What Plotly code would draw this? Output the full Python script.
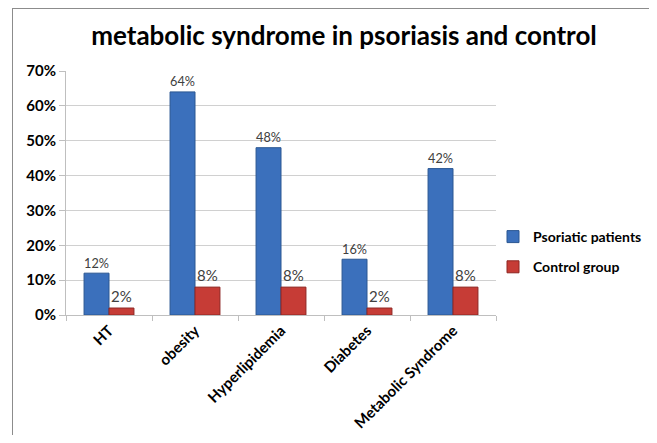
import plotly.graph_objects as go

categories = ["HT", "obesity", "Hyperlipidemia", "Diabetes", "Metabolic Syndrome"]
psoriatic = [0.12, 0.64, 0.48, 0.16, 0.42]
control = [0.02, 0.08, 0.08, 0.02, 0.08]
series_names = ["Psoriatic patients", "Control group"]
y_ticks = [0, 0.1, 0.2, 0.3, 0.4, 0.5, 0.6, 0.7]

FONT = "Lato"
OX, OY = 8, 8  # page body margin
W, H = 657 - 2 * OX, 443 - 2 * OY
PL, PR, PT, PB = 66, 496, 71, 315  # plot area in reference pixels
L, T = PL - OX, PT - OY
R, B = W - (PR - OX), H - (PB - OY)
pw, ph = W - L - R, H - T - B

def px_x(x):  # reference pixel -> paper
    return (x - OX - L) / pw

def px_y(y):
    return (H - B - (y - OY)) / ph

fig = go.Figure()
fig.add_trace(go.Bar(
    x=categories, y=psoriatic, name=series_names[0], legendgroup="a",
    marker=dict(color="#3B70BC", line=dict(color="#2A5792", width=1)),
    text=[f"{v:.0%}" for v in psoriatic], textposition="outside",
    textfont=dict(family=FONT, size=15, color="#404040"), cliponaxis=False,
))
fig.add_trace(go.Bar(
    x=categories, y=control, name=series_names[1], legendgroup="b",
    marker=dict(color="#C63C36", line=dict(color="#8E2622", width=1)),
    text=[f"{v:.0%}" for v in control], textposition="outside",
    textfont=dict(family=FONT, size=15, color="#404040"), cliponaxis=False,
))

fig.update_layout(
    width=W, height=H,
    margin=dict(l=L, r=R, t=T, b=B, pad=0, autoexpand=False),
    paper_bgcolor="white", plot_bgcolor="white",
    barmode="group", bargap=0.42, bargroupgap=0,
    font=dict(family=FONT, color="black"),
    title=dict(text="<b>metabolic syndrome in psoriasis and control</b>",
               x=px_x(344), xref="paper", xanchor="center",
               y=1 - (36 - OY) / H, yanchor="middle",
               font=dict(family=FONT, size=26, color="black")),
    legend=dict(x=px_x(493), y=px_y(221), xanchor="left", yanchor="top",
                font=dict(family=FONT, size=14, color="black", weight="bold"),
                itemwidth=30, traceorder="grouped", tracegroupgap=9,
                bgcolor="rgba(0,0,0,0)"),
    showlegend=True,
)
fig.update_xaxes(
    type="category", showgrid=False, showline=True, linecolor="#BFBFBF", linewidth=1,
    ticks="outside", tickson="boundaries", ticklen=5, tickcolor="#BFBFBF",
    tickangle=-45, tickfont=dict(family=FONT, size=15, color="black", weight="bold"),
)
fig.update_yaxes(
    range=[0, 0.7], tickvals=y_ticks, tickformat=".0%",
    showgrid=True, gridcolor="#D0D0D0", gridwidth=1,
    showline=True, linecolor="#BFBFBF", linewidth=1,
    ticks="outside", ticklen=6, tickcolor="#BFBFBF",
    tickfont=dict(family=FONT, size=15, color="black", weight="bold"),
    zeroline=False,
)
# chart frame (top and left edges)
fig.add_shape(type="line", xref="paper", yref="paper",
              x0=px_x(12), x1=px_x(700), y0=px_y(8.5), y1=px_y(8.5),
              line=dict(color="#8C8C8C", width=1))
fig.add_shape(type="line", xref="paper", yref="paper",
              x0=px_x(12.5), x1=px_x(12.5), y0=px_y(8.5), y1=px_y(500),
              line=dict(color="#8C8C8C", width=1))

fig.write_html("out.html")
